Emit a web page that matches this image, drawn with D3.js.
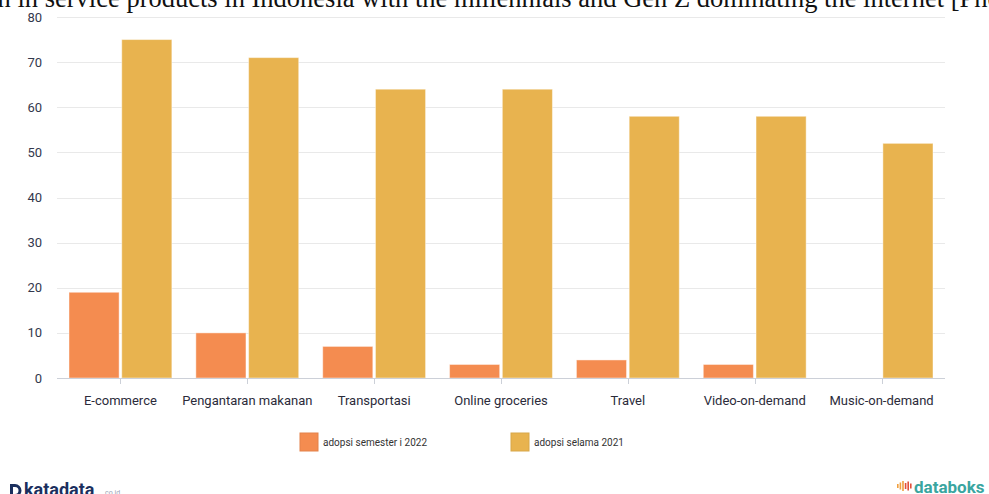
<!DOCTYPE html>
<html>
<head>
<meta charset="utf-8">
<script src="https://cdn.jsdelivr.net/npm/d3@7"></script>
<style>
  body { margin: 0; background: #fff; }
  svg { display: block; font-family: Roboto, "Noto Sans", sans-serif; }
</style>
</head>
<body>
<svg id="chart" width="989" height="494"></svg>
<script>
// data
var kategori = ["E-commerce", "Pengantaran makanan", "Transportasi", "Online groceries", "Travel", "Video-on-demand", "Music-on-demand"]
var adopsi2022 = [19, 10, 7, 3, 4, 3, 0]
var adopsi2021 = [75, 71, 64, 64, 58, 58, 52]
var serie = ["adopsi semester i 2022", "adopsi selama 2021"]
var barvy = ["#f48c50", "#e8b34f"]
var yTicks = [0, 10, 20, 30, 40, 50, 60, 70, 80]

var svg = d3.select("#chart")

// title (cut off at top like in the source)
svg.append("text")
  .attr("x", -23)
  .attr("y", 7)
  .style("font-family", "'Liberation Serif', 'DejaVu Serif', serif")
  .style("font-size", "26.5px")
  .style("fill", "#111")
  .text("ion in service products in Indonesia with the millennials and Gen Z dominating the internet [Photo")

var pLeft = 57, pRight = 945, pTop = 17, pBottom = 378

var x = d3.scaleBand().domain(kategori).range([pLeft, pRight]).paddingInner(0).paddingOuter(0)
var x1 = d3.scaleBand().domain(serie).range([12, x.bandwidth() - 12]).paddingInner(0.05)
var y = d3.scaleLinear().domain([0, 80]).range([pBottom, pTop])

// grid
svg.append("g").selectAll("line").data(yTicks.filter(d => d > 0)).enter().append("line")
  .attr("x1", pLeft).attr("x2", pRight)
  .attr("y1", d => Math.round(y(d)) + 0.5).attr("y2", d => Math.round(y(d)) + 0.5)
  .style("stroke", "#e9e9e9").style("stroke-width", 1)

// y labels
svg.append("g").selectAll("text").data(yTicks).enter().append("text")
  .attr("x", 42)
  .attr("y", d => y(d))
  .attr("dy", "0.35em")
  .attr("text-anchor", "end")
  .style("font-size", "13px")
  .style("fill", "#33384d")
  .text(d => d)

// bars
var rows = kategori.map((k, i) => ({ k: k, hodnoty: [adopsi2022[i], adopsi2021[i]] }))
var g = svg.append("g").selectAll("g").data(rows).enter().append("g")
  .attr("transform", d => "translate(" + x(d.k) + ",0)")
g.selectAll("rect").data(d => d.hodnoty.map((v, j) => ({ s: serie[j], v: v, c: barvy[j] }))).enter()
  .filter(d => d.v > 0)
  .append("rect")
  .attr("x", d => x1(d.s))
  .attr("y", d => y(d.v))
  .attr("width", x1.bandwidth())
  .attr("height", d => y(0) - y(d.v))
  .style("fill", d => d.c)
  .style("stroke", "#fff")
  .style("stroke-opacity", 0.45)
  .style("stroke-width", 1)

// x axis
svg.append("line")
  .attr("x1", pLeft).attr("x2", pRight)
  .attr("y1", pBottom + 0.5).attr("y2", pBottom + 0.5)
  .style("stroke", "#ccd0d8")
svg.append("g").selectAll("line").data(kategori).enter().append("line")
  .attr("x1", d => Math.round(x(d) + x.bandwidth() / 2) + 0.5).attr("x2", d => Math.round(x(d) + x.bandwidth() / 2) + 0.5)
  .attr("y1", pBottom).attr("y2", pBottom + 6)
  .style("stroke", "#ccd0d8")
svg.append("g").selectAll("text").data(kategori).enter().append("text")
  .attr("x", d => x(d) + x.bandwidth() / 2)
  .attr("y", 400)
  .attr("dy", "0.35em")
  .attr("text-anchor", "middle")
  .style("font-size", "13px")
  .style("fill", "#2b2b3a")
  .text(d => d)

// legend
var legX = [300, 511]
var leg = svg.append("g").selectAll("g").data(serie).enter().append("g")
  .attr("transform", (d, i) => "translate(" + legX[i] + ",433)")
leg.append("rect").attr("width", 18).attr("height", 18)
  .style("fill", (d, i) => barvy[i])
  .style("stroke", (d, i) => d3.color(barvy[i]).darker(0.2))
leg.append("text").attr("x", 23).attr("y", 9).attr("dy", "0.35em")
  .style("font-size", "10px").style("fill", "#333")
  .text(d => d)

// logos
var kd = svg.append("g").attr("transform", "translate(10,496)")
kd.append("path").attr("d", "M0,-12 h5 a6.5,6.5 0 0 1 0,13 h-5 z M3,-9 v7 h2 a3.5,3.5 0 0 0 0,-7 z")
  .style("fill", "#1b2f5e").style("fill-rule", "evenodd")
kd.append("text").attr("x", 14).attr("y", 0)
  .style("font-size", "18px").style("font-weight", "bold").style("fill", "#1b2f5e")
  .text("katadata")
kd.append("text").attr("x", 95).attr("y", -1)
  .style("font-size", "7px").style("fill", "#9aa3b5")
  .text("co.id")

var db = svg.append("g").attr("transform", "translate(897,493)")
var bary = [4, 7, 10, 6, 9, 5]
db.selectAll("rect").data(bary).enter().append("rect")
  .attr("x", (d, i) => i * 2.6).attr("y", d => -12 + (10 - d) / 2).attr("width", 1.6).attr("height", d => d)
  .style("fill", (d, i) => i < 3 ? "#f0a040" : "#e2513c")
db.append("text").attr("x", 17).attr("y", 0)
  .style("font-size", "17px").style("font-weight", "bold").style("fill", "#3aa5a0")
  .text("databoks")
</script>
</body>
</html>
